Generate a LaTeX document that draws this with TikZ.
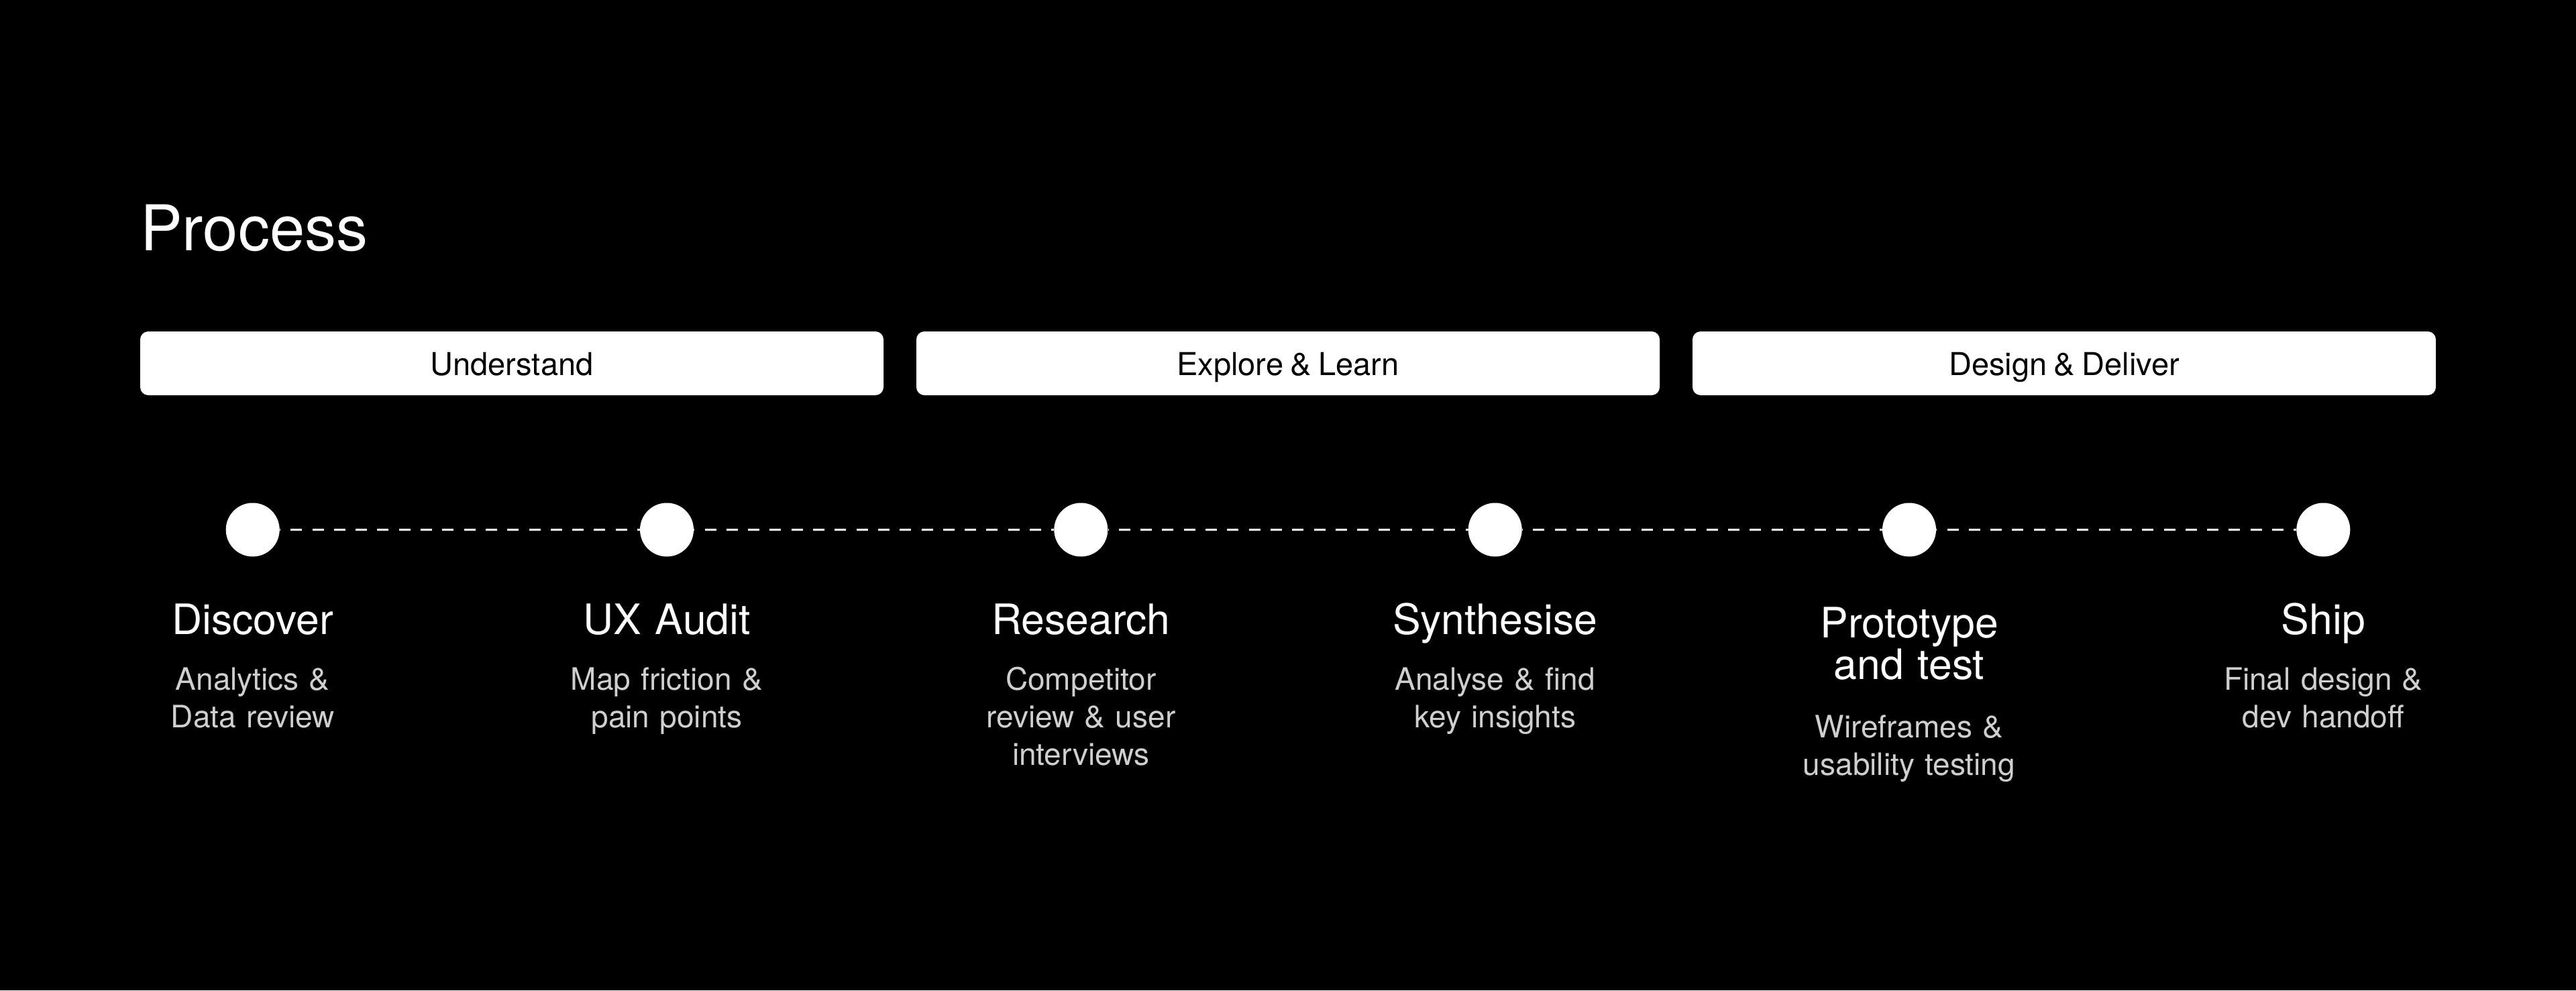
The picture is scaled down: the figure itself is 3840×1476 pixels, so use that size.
\documentclass[tikz,border=0pt]{standalone}
\usepackage{fontspec}
\setmainfont[WordSpace=0.8]{TeX Gyre Heros}
\definecolor{descgray}{RGB}{207,207,207}
\begin{document}
\begin{tikzpicture}[x=1pt,y=-1pt,
  phase/.style={fill=white, rounded corners=12pt, minimum width=1108pt, minimum height=95pt,
    inner sep=0pt, text height=35pt, text depth=0pt, text=black, font=\fontsize{47}{56}\selectfont},
  dot/.style={circle, fill=white, draw=none, minimum size=80pt, inner sep=0pt},
  link/.style={white, line width=3pt, dash pattern=on 17pt off 15.3pt, dash phase=16pt},
  head/.style={anchor=base, inner sep=0pt, text=white, font=\fontsize{62.5}{62}\selectfont,
    text width=560pt, align=center},
  desc/.style={anchor=base, inner sep=0pt, text=descgray, font=\fontsize{46}{56}\selectfont,
    text width=560pt, align=center},
  title/.style={anchor=base west, inner sep=0pt, text=white, font=\fontsize{94}{100}\selectfont}]

\fill[black] (0,0) rectangle (3840,1476);
\useasboundingbox (0,0) rectangle (3840,1476);

\node[title] (title) at (209,373) {Process};

\node[phase] (p1) at (763,541.5) {Understand};
\node[phase] (p2) at (1920,541.5) {Explore \& Learn};
\node[phase] (p3) at (3077,541.5) {Design \& Deliver};

\foreach \i/\x in {1/376.7, 2/994.0, 3/1611.3, 4/2228.7, 5/2846.0, 6/3463.3}
  \node[dot] (d\i) at (\x,789.5) {};

\draw[link] (d1) -- (d2);
\draw[link] (d2) -- (d3);
\draw[link] (d3) -- (d4);
\draw[link] (d4) -- (d5);
\draw[link] (d5) -- (d6);

\node[head] (h1) at (376.7,945) {Discover};
\node[head] (h2) at (994.0,945) {UX Audit};
\node[head] (h3) at (1611.3,945) {Research};
\node[head] (h4) at (2228.7,945) {Synthesise};
\node[head] (h5) at (2846.0,950) {Prototype\\and test};
\node[head] (h6) at (3463.3,945) {Ship};

\node[desc] (t1) at (376.7,1028) {Analytics \&\\Data review};
\node[desc] (t2) at (994.0,1028) {Map friction \&\\pain points};
\node[desc] (t3) at (1611.3,1028) {Competitor\\review \& user\\interviews};
\node[desc] (t4) at (2228.7,1028) {Analyse \& find\\key insights};
\node[desc] (t5) at (2846.0,1099) {Wireframes \&\\usability testing};
\node[desc] (t6) at (3463.3,1028) {Final design \&\\dev handoff};
\end{tikzpicture}
\end{document}
